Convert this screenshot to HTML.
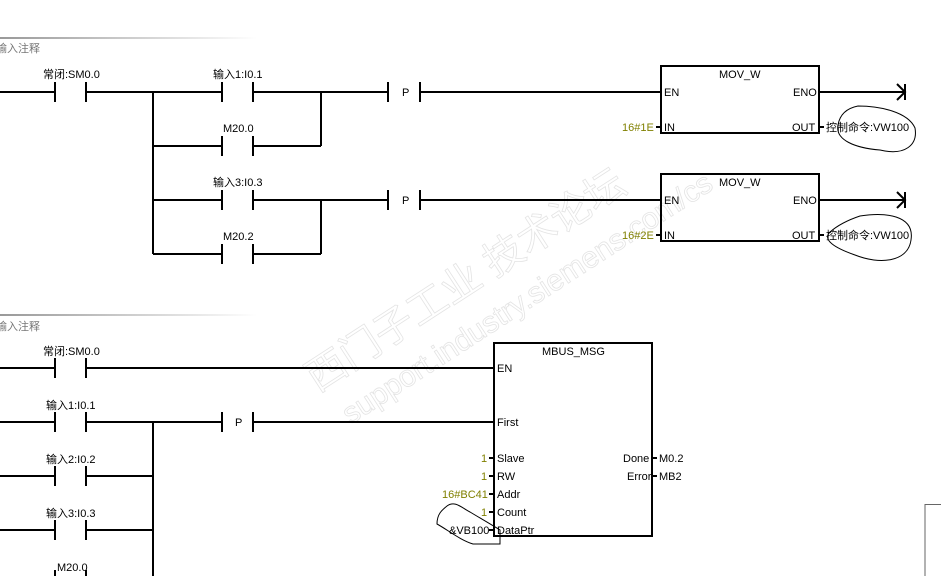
<!DOCTYPE html>
<html><head><meta charset="utf-8"><style>
html,body{margin:0;padding:0;background:#fff;width:941px;height:576px;overflow:hidden}
svg text{font-family:"Liberation Sans","Noto Sans CJK SC",sans-serif;font-size:11px}
</style></head><body>
<svg width="941" height="576" viewBox="0 0 941 576" xmlns="http://www.w3.org/2000/svg">
<defs>
<linearGradient id="g" x1="0" x2="1"><stop offset="0" stop-color="#999"/><stop offset="1" stop-color="#fff"/></linearGradient>
</defs>
<!-- watermark -->
<g fill="none" stroke="#e4e4e4" stroke-width="0.8" transform="rotate(-33 460 300)">
<text x="290" y="300" style="font-size:40px">西门子工业 技术论坛</text>
<text x="300" y="345" style="font-size:30px">support.industry.siemens.com/cs</text>
</g>
<rect x="0" y="37" width="257" height="2" fill="url(#g)"/>
<text x="-4" y="52" fill="#777">输入注释</text>
<rect x="0" y="314" width="257" height="2" fill="url(#g)"/>
<text x="-4" y="330" fill="#777">输入注释</text>

<g stroke="#000" stroke-width="2" fill="none">
<!-- network 1 -->
<path d="M0 92H55M86 92H222M253 92H388M420 92H661"/>
<path d="M55 82V102M86 82V102M222 82V102M253 82V102M388 82V102M420 82V102"/>
<path d="M153 92V254M153 146H222M253 146H321M321 92V146"/>
<path d="M222 136V156M253 136V156"/>
<path d="M153 200H222M253 200H388M420 200H661M321 200V254M153 254H222M253 254H321"/>
<path d="M222 190V210M253 190V210M222 244V264M253 244V264M388 190V210M420 190V210"/>
<rect x="661" y="66" width="158" height="67"/>
<rect x="661" y="174" width="158" height="67"/>
<path d="M819 92H905M897 84L905 92L897 100M905 84V100"/>
<path d="M819 200H905M897 192L905 200L897 208M905 192V208"/>
<!-- network 2 -->
<path d="M0 368H55M86 368H494M55 358V378M86 358V378"/>
<path d="M0 422H55M86 422H222M253 422H494M55 412V432M86 412V432M222 412V432M253 412V432"/>
<path d="M153 422V576"/>
<path d="M0 476H55M86 476H153M55 466V486M86 466V486"/>
<path d="M0 530H55M86 530H153M55 520V540M86 520V540"/>
<path d="M55 570V576M86 570V576"/>
<rect x="494" y="343" width="158" height="193"/>
</g>
<g stroke="#000" stroke-width="2">
<path d="M656 127H661M819 127H824M656 235H661M819 235H824"/>
<path d="M489 458H494M489 476H494M489 494H494M489 512H494M489 530H494M652 458H657M652 476H657"/>
</g>
<path d="M925 576V504.5H941" stroke="#666" stroke-width="1" fill="none"/>

<g fill="#000">
<text x="43" y="78">常闭:SM0.0</text>
<text x="213" y="78">输入1:I0.1</text>
<text x="223" y="132">M20.0</text>
<text x="213" y="186">输入3:I0.3</text>
<text x="223" y="240">M20.2</text>
<text x="402" y="96">P</text>
<text x="402" y="204">P</text>
<text x="719" y="78">MOV_W</text>
<text x="664" y="96">EN</text>
<text x="793" y="96">ENO</text>
<text x="664" y="131">IN</text>
<text x="792" y="131">OUT</text>
<text x="826" y="131">控制命令:VW100</text>
<text x="719" y="186">MOV_W</text>
<text x="664" y="204">EN</text>
<text x="793" y="204">ENO</text>
<text x="664" y="239">IN</text>
<text x="792" y="239">OUT</text>
<text x="826" y="239">控制命令:VW100</text>

<text x="43" y="355">常闭:SM0.0</text>
<text x="46" y="409">输入1:I0.1</text>
<text x="46" y="463">输入2:I0.2</text>
<text x="46" y="517">输入3:I0.3</text>
<text x="57" y="571">M20.0</text>
<text x="235" y="426">P</text>
<text x="542" y="355">MBUS_MSG</text>
<text x="497" y="372">EN</text>
<text x="497" y="426">First</text>
<text x="497" y="462">Slave</text>
<text x="497" y="480">RW</text>
<text x="497" y="498">Addr</text>
<text x="497" y="516">Count</text>
<text x="497" y="534">DataPtr</text>
<text x="623" y="462">Done</text>
<text x="627" y="480">Error</text>
<text x="659" y="462">M0.2</text>
<text x="659" y="480">MB2</text>
<text x="449" y="534">&amp;VB100</text>
</g>
<g fill="#808000">
<text x="622" y="131">16#1E</text>
<text x="622" y="239">16#2E</text>
<text x="481" y="462">1</text>
<text x="481" y="480">1</text>
<text x="442" y="498">16#BC41</text>
<text x="481" y="516">1</text>
</g>
<!-- hand-drawn circles -->
<g fill="none" stroke="#000" stroke-width="1">
<path d="M858 106C880 106 908 112 915 128C918 145 905 156 880 150C855 148 835 140 838 125C840 113 848 108 858 106Z"/>
<path d="M860 216C885 212 915 215 911 240C908 262 880 265 855 255C835 248 822 240 830 232C838 225 848 220 860 216Z"/>
<path d="M447 506C455 500 462 508 470 512C480 518 492 525 500 530V544H473C460 540 448 530 437 524C437 514 442 510 447 506Z"/>
</g>
</svg>
</body></html>
